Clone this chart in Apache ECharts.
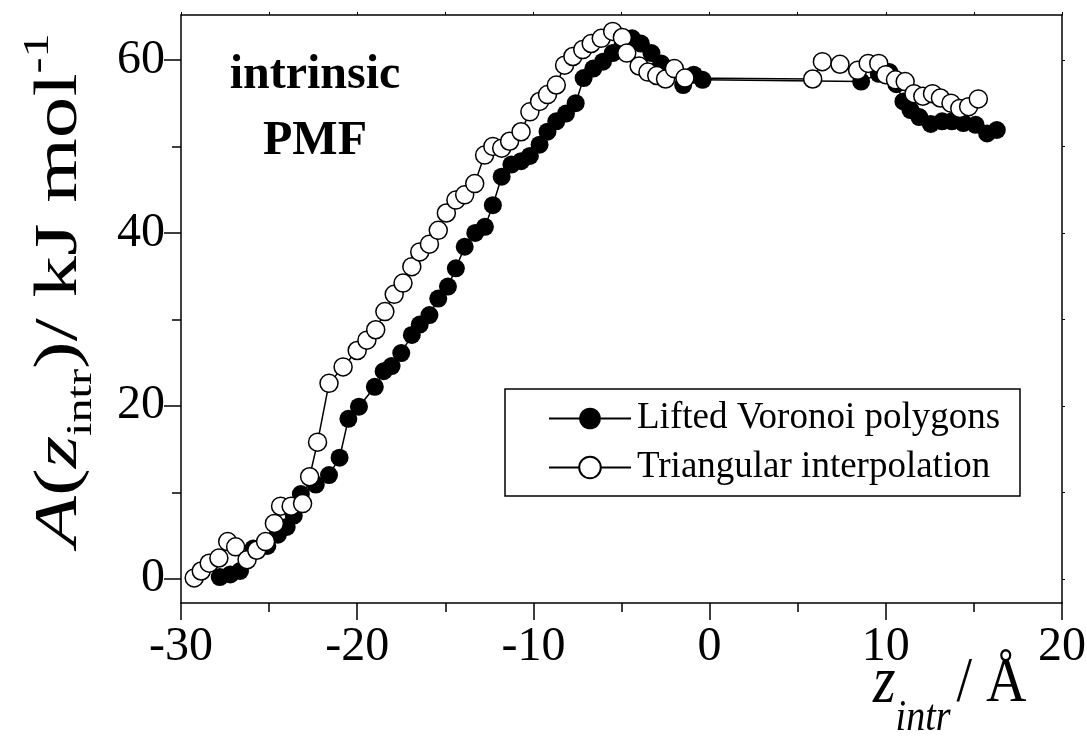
<!DOCTYPE html>
<html>
<head>
<meta charset="utf-8">
<script src="https://cdn.jsdelivr.net/npm/echarts@6/dist/echarts.min.js"></script>
<style>
html, body { margin: 0; padding: 0; background: #fff; }
#chart { width: 1087px; height: 751px; }
</style>
</head>
<body>
<div id="chart"></div>
<script>
// z_intr (A), A (kJ/mol)
const voronoi = [
  [-27.8, 0.2], [-27.2, 0.5], [-26.65, 0.9], [-25.9, 3.5], [-25.1, 3.8], [-24.5, 5.1],
  [-24.0, 6.0], [-23.6, 7.3], [-23.2, 9.8], [-22.35, 10.9], [-21.6, 12.0], [-21.0, 14.0],
  [-20.5, 18.5], [-19.9, 19.9], [-19.0, 22.2], [-18.5, 24.0], [-18.05, 24.6], [-17.5, 26.1],
  [-16.9, 28.2], [-16.45, 29.4], [-15.9, 30.5], [-15.4, 32.4], [-14.85, 33.8], [-14.4, 35.9],
  [-13.9, 38.4], [-13.3, 40.0], [-12.75, 40.7], [-12.3, 43.2], [-11.8, 46.5], [-11.25, 47.9],
  [-10.7, 48.3], [-10.2, 48.9], [-9.65, 50.2], [-9.2, 51.7], [-8.7, 52.9], [-8.15, 53.8],
  [-7.6, 55.0], [-7.15, 57.9], [-6.6, 59.0], [-6.05, 59.8], [-5.5, 60.8], [-4.95, 61.7],
  [-4.4, 62.5], [-3.9, 61.9], [-3.3, 60.8], [-2.75, 59.6], [-2.1, 58.8], [-1.5, 57.1],
  [-0.9, 58.3], [-0.4, 57.7], [8.6, 57.5], [9.6, 58.4], [10.2, 58.6], [10.6, 57.2],
  [11.0, 55.2], [11.4, 54.2], [11.9, 53.4], [12.55, 52.6], [13.2, 52.9], [13.75, 52.9],
  [14.4, 52.7], [15.1, 52.5], [15.75, 51.5], [16.3, 51.9]
]

const triangular = [
  [-29.25, 0.1], [-28.85, 0.9], [-28.4, 1.8], [-27.85, 2.4], [-27.35, 4.3], [-26.9, 3.7],
  [-26.25, 2.2], [-25.7, 3.3], [-25.2, 4.3], [-24.7, 6.4], [-24.35, 8.4], [-23.75, 8.4],
  [-23.1, 8.7], [-22.7, 11.8], [-22.25, 15.8], [-21.6, 22.6], [-20.8, 24.5], [-20.0, 26.4],
  [-19.45, 27.6], [-18.95, 28.8], [-18.43, 30.9], [-17.9, 32.9], [-17.4, 34.2], [-16.9, 36.1],
  [-16.45, 37.8], [-15.9, 38.7], [-15.4, 40.3], [-14.94, 42.3], [-14.4, 43.8], [-13.9, 44.4],
  [-13.33, 45.7], [-12.77, 49.0], [-12.3, 50.0], [-11.8, 49.8], [-11.35, 50.6], [-10.7, 51.7],
  [-10.2, 54.0], [-9.65, 55.2], [-9.2, 56.0], [-8.7, 57.1], [-8.23, 59.4], [-7.76, 60.4],
  [-7.2, 61.2], [-6.72, 61.9], [-6.15, 62.5], [-5.5, 63.3], [-4.95, 62.6], [-4.7, 60.8],
  [-4.0, 59.3], [-3.5, 58.6], [-3.0, 58.2], [-2.5, 57.8], [-2.0, 59.0], [-1.4, 57.9],
  [5.85, 57.8], [6.4, 59.8], [7.4, 59.5], [8.4, 58.8], [9.0, 59.6], [9.6, 59.6],
  [10.0, 58.3], [10.55, 57.7], [11.1, 57.5], [11.6, 56.1], [12.1, 55.8], [12.65, 56.1],
  [13.1, 55.6], [13.7, 55.0], [14.2, 54.4], [14.7, 54.6], [15.25, 55.5]
]

const seriesNames = ["Lifted Voronoi polygons", "Triangular interpolation"]
const yMajorTicks = [0, 20, 40, 60]
const yMinorTicks = [10, 30, 50]
const yRightTicks = [0, 10, 20, 30, 40, 50, 60]

const serif = "Liberation Serif"
const black = "#000"

let myChart = echarts.init(document.getElementById("chart"))
myChart.setOption({
  animation: false,
  backgroundColor: "#fff",
  grid: {
    left: 181,
    right: 25,
    top: 15,
    bottom: 148,
    outerBoundsMode: "none"
  },
  legend: {
    orient: "vertical",
    left: 548,
    top: 400,
    padding: 0,
    itemWidth: 82,
    itemHeight: 27,
    itemGap: 12,
    data: seriesNames,
    textStyle: {
      fontFamily: serif,
      fontSize: 37,
      color: black,
      padding: [0, 0, 0, 1]
    }
  },
  xAxis: [
    {
      type: "value",
      min: -30,
      max: 20,
      interval: 10,
      position: "bottom",
      axisLine: { onZero: false, lineStyle: { color: black, width: 1.5 } },
      axisTick: { inside: false, length: 17, lineStyle: { color: black, width: 1.5 } },
      minorTick: { show: true, splitNumber: 2, length: 9, lineStyle: { color: black, width: 1.5 } },
      axisLabel: { margin: 20, fontFamily: serif, fontSize: 48, color: black },
      splitLine: { show: false }
    },
    {
      type: "value",
      min: -30,
      max: 20,
      interval: 5,
      position: "top",
      axisLine: { onZero: false, lineStyle: { color: black, width: 1.5 } },
      axisTick: { inside: false, length: 3, lineStyle: { color: black, width: 1 } },
      axisLabel: { show: false },
      splitLine: { show: false }
    }
  ],
  yAxis: [
    {
      type: "value",
      min: -2.8,
      max: 65.2,
      position: "left",
      axisLine: { onZero: false, lineStyle: { color: black, width: 1.5 } },
      axisTick: { customValues: yMajorTicks, length: 17, lineStyle: { color: black, width: 1.5 } },
      axisLabel: { customValues: yMajorTicks, margin: 16, fontFamily: serif, fontSize: 48, color: black },
      splitLine: { show: false }
    },
    {
      type: "value",
      min: -2.8,
      max: 65.2,
      position: "left",
      axisLine: { show: false, onZero: false },
      axisTick: { customValues: yMinorTicks, length: 9, lineStyle: { color: black, width: 1.5 } },
      axisLabel: { show: false },
      splitLine: { show: false }
    },
    {
      type: "value",
      min: -2.8,
      max: 65.2,
      position: "right",
      axisLine: { onZero: false, lineStyle: { color: black, width: 1.5 } },
      axisTick: { customValues: yRightTicks, length: 3, lineStyle: { color: black, width: 1 } },
      axisLabel: { show: false },
      splitLine: { show: false }
    }
  ],
  graphic: [
    {
      type: "rect",
      shape: { x: 505, y: 389, width: 515, height: 107 },
      style: { fill: "none", stroke: black, lineWidth: 1.5 },
      z: 1
    },
    {
      type: "text",
      x: 315,
      y: 76,
      style: { text: "intrinsic", font: "bold 48px 'Liberation Serif'", fill: black, align: "center", verticalAlign: "middle" }
    },
    {
      type: "text",
      x: 315,
      y: 142,
      style: { text: "PMF", font: "bold 48px 'Liberation Serif'", fill: black, align: "center", verticalAlign: "middle" }
    },
    {
      // y axis title, rotated and stretched along its length
      type: "text",
      x: 60,
      y: 290,
      rotation: Math.PI / 2,
      scaleX: 1.34,
      style: {
        text: "{it|A}{n|(}{it|z}{sub|intr}{n|)/ kJ mol}{sup|-1}",
        align: "center",
        verticalAlign: "middle",
        fill: black,
        rich: {
          it: { fontFamily: serif, fontStyle: "italic", fontSize: 62, lineHeight: 90, verticalAlign: "middle" },
          n: { fontFamily: serif, fontSize: 62, lineHeight: 90, verticalAlign: "middle" },
          sub: { fontFamily: serif, fontSize: 36, lineHeight: 36, padding: [44, 0, 0, 0], verticalAlign: "middle" },
          sup: { fontFamily: serif, fontSize: 36, lineHeight: 36, padding: [0, 0, 42, 0], verticalAlign: "middle" }
        }
      }
    },
    {
      // x axis title
      type: "text",
      x: 873,
      y: 684,
      scaleY: 1.15,
      style: {
        text: "{it|z}{sub|intr}{n|/ Å}",
        align: "left",
        verticalAlign: "middle",
        fill: black,
        rich: {
          it: { fontFamily: serif, fontStyle: "italic", fontSize: 58, lineHeight: 90, verticalAlign: "middle" },
          n: { fontFamily: serif, fontSize: 56, lineHeight: 90, verticalAlign: "middle", padding: [0, 0, 0, 6] },
          sub: { fontFamily: serif, fontStyle: "italic", fontSize: 38, lineHeight: 38, padding: [60, 0, 0, 0], verticalAlign: "middle" }
        }
      }
    }
  ],
  series: [
    {
      name: seriesNames[0],
      type: "line",
      data: voronoi,
      symbol: "circle",
      symbolSize: 18,
      showAllSymbol: true,
      itemStyle: { color: black },
      lineStyle: { color: black, width: 1.5 },
      z: 3
    },
    {
      name: seriesNames[1],
      type: "line",
      data: triangular,
      symbol: "circle",
      symbolSize: 18,
      showAllSymbol: true,
      itemStyle: { color: "#fff", borderColor: black, borderWidth: 1.5 },
      lineStyle: { color: black, width: 1.5 },
      z: 4
    }
  ]
})
</script>
</body>
</html>
